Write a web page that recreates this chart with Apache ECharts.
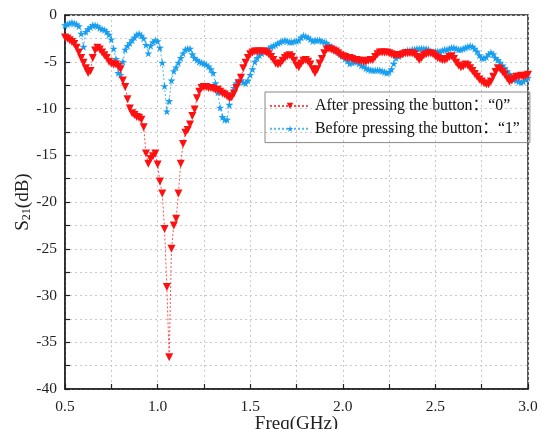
<!DOCTYPE html>
<html><head><meta charset="utf-8">
<script src="https://cdn.jsdelivr.net/npm/echarts@6/dist/echarts.min.js"></script>
<style>html,body{margin:0;padding:0;background:#fff}#c{width:542px;height:429px}</style>
</head><body><div id="c"></div>
<script>
// Frequency sweep: 201 points from 0.5 to 3.0 GHz
const freqStart = 0.5;
const freqStep = 0.0125;
const xTicks = ['0.5','1.0','1.5','2.0','2.5','3.0'];
const yTicks = ['0','-5','-10','-15','-20','-25','-30','-35','-40'];
const seriesNames = ['After pressing the button\uff1a\u201c0\u201d', 'Before pressing the button\uff1a\u201c1\u201d'];

const afterS21 = [
-2.4,-2.5,-2.7,-2.9,-3.1,-3.5,-4.0,-4.6,-5.1,-5.7,
-6.2,-6.0,-4.6,-3.8,-3.5,-3.7,-4.0,-4.3,-4.6,-5.0,
-5.2,-5.3,-5.3,-5.5,-5.8,-7.0,-7.7,-9.0,-10.0,-10.5,
-10.7,-10.9,-11.0,-11.2,-12.0,-14.8,-15.9,-15.4,-15.1,-14.8,
-16.0,-17.8,-19.1,-22.9,-29.1,-36.6,-25.0,-22.5,-21.8,-19.1,
-15.9,-13.8,-12.6,-12.3,-11.7,-10.8,-10.1,-8.9,-8.2,-7.8,
-7.7,-7.7,-7.8,-7.8,-7.9,-8.0,-8.0,-8.2,-8.4,-8.5,
-8.7,-8.9,-8.8,-8.4,-7.8,-7.3,-6.7,-5.7,-5.1,-4.6,
-4.2,-4.0,-3.9,-3.9,-3.9,-3.9,-3.9,-4.0,-4.2,-4.5,
-4.8,-5.2,-5.3,-5.2,-4.9,-4.6,-4.4,-4.3,-4.5,-4.9,
-5.4,-5.6,-5.2,-4.9,-4.8,-5.0,-5.3,-5.8,-6.2,-5.8,
-5.2,-4.7,-4.1,-3.7,-3.6,-3.7,-3.8,-3.9,-4.1,-4.3,
-4.4,-4.5,-4.6,-4.6,-4.7,-4.8,-4.8,-4.9,-4.9,-5.0,
-5.0,-4.9,-4.8,-4.8,-4.5,-4.2,-4.0,-4.0,-4.0,-4.0,
-4.1,-4.2,-4.3,-4.3,-4.3,-4.3,-4.2,-4.1,-4.1,-4.1,
-4.1,-4.2,-4.5,-4.8,-4.6,-4.3,-4.2,-4.1,-4.1,-4.2,
-4.4,-4.6,-4.7,-4.8,-4.8,-4.7,-4.5,-4.4,-4.7,-5.1,
-5.4,-5.6,-5.5,-5.3,-5.4,-5.7,-6.0,-6.3,-6.6,-6.9,
-7.1,-7.3,-7.4,-7.4,-7.1,-6.6,-6.1,-5.7,-5.8,-6.1,
-6.4,-6.8,-7.1,-7.0,-6.8,-6.6,-6.6,-6.5,-6.6,-6.5,
-6.4
];

const beforeS21 = [
-1.1,-1.0,-0.9,-0.8,-0.9,-1.0,-1.2,-2.0,-3.4,-1.8,
-1.5,-1.3,-1.1,-1.1,-1.2,-1.4,-1.5,-1.6,-1.8,-2.1,
-2.6,-3.6,-4.7,-6.2,-6.4,-5.0,-3.7,-3.3,-3.0,-2.7,
-2.4,-2.1,-2.0,-2.2,-2.5,-3.2,-4.1,-3.3,-2.9,-2.7,
-2.8,-3.5,-5.1,-7.6,-10.3,-9.2,-7.0,-6.0,-5.6,-5.1,
-4.6,-4.1,-3.7,-3.6,-3.6,-4.2,-4.6,-4.8,-5.0,-5.1,
-5.2,-5.3,-5.5,-5.8,-6.2,-7.3,-8.3,-9.9,-10.9,-11.2,
-11.2,-9.6,-8.4,-7.8,-7.3,-7.1,-7.0,-7.2,-7.3,-7.0,
-6.4,-5.8,-5.0,-4.6,-4.3,-4.1,-3.9,-3.8,-3.6,-3.4,
-3.3,-3.2,-3.0,-2.9,-2.8,-2.7,-2.8,-2.9,-2.9,-2.8,
-2.8,-2.7,-2.4,-2.2,-2.3,-2.4,-2.6,-2.8,-2.7,-2.7,
-2.7,-2.8,-2.9,-3.0,-3.2,-3.4,-3.6,-3.8,-4.0,-4.2,
-4.4,-4.7,-4.9,-5.2,-5.1,-5.0,-5.0,-5.2,-5.4,-5.5,
-5.7,-5.8,-5.9,-5.9,-5.9,-5.9,-5.9,-6.0,-6.1,-6.2,
-6.1,-5.8,-5.2,-4.6,-4.4,-4.2,-4.0,-3.9,-3.8,-3.8,
-3.7,-3.7,-3.6,-3.6,-3.6,-3.6,-3.6,-3.7,-3.9,-4.0,
-3.9,-3.9,-3.9,-3.8,-3.7,-3.7,-3.6,-3.5,-3.5,-3.6,
-3.7,-3.7,-3.6,-3.5,-3.4,-3.3,-3.4,-3.6,-3.9,-4.3,
-4.6,-4.6,-4.5,-4.2,-4.0,-4.2,-4.6,-4.8,-5.1,-5.4,
-5.7,-6.0,-6.3,-6.6,-6.9,-7.0,-7.1,-7.2,-7.1,-6.9,
-6.7
];

function pairs(vals){ return vals.map((v,i)=>[+(freqStart + i*freqStep).toFixed(4), v]); }

const STAR = 'path://M50,0 L61,35 L98,35 L68,57 L79,91 L50,70 L21,91 L32,57 L2,35 L39,35 Z';
const serif = '"Liberation Serif","Times New Roman","Noto Sans CJK SC",serif';
const chart = echarts.init(document.getElementById('c'), null, {renderer:'canvas'});
const gridLine = {show:true, lineStyle:{color:'#c8c8c8', type:[2,3], width:1}};
chart.setOption({
  animation:false,
  backgroundColor:'#fff',
  grid:{left:65, right:14, top:15, bottom:40, containLabel:false, outerBoundsMode:'none',
        show:true, borderColor:'#222', borderWidth:1.5, backgroundColor:'transparent'},
  legend:{
    orient:'vertical', left:265, top:92,
    borderColor:'#888', borderWidth:1, padding:[6,10,6,4], itemGap:7,
    itemWidth:40, itemHeight:8,
    textStyle:{fontFamily:serif, fontSize:15.8, color:'#111'},
    data:[{name:seriesNames[0]},{name:seriesNames[1]}]
  },
  xAxis:{
    type:'value', min:0.5, max:3.0, interval:0.25,
    axisLine:{show:true, onZero:false, lineStyle:{color:'#222', width:1.5}},
    axisTick:{show:true, inside:true, length:5, lineStyle:{color:'#222', width:1.2}},
    splitLine:gridLine,
    axisLabel:{fontFamily:serif, fontSize:15.5, color:'#222', margin:10,
      formatter:v=>{ const s=v.toFixed(1); return xTicks.includes(s) && Math.abs(v*2-Math.round(v*2))<1e-6 ? s : ''; }},
    name:'Freq(GHz)', nameLocation:'middle', nameGap:26, nameMoveOverlap:false,
    nameTextStyle:{fontFamily:serif, fontSize:19, color:'#222'}
  },
  yAxis:{
    type:'value', min:-40, max:0, interval:2.5,
    axisLine:{show:true, lineStyle:{color:'#222', width:1.5}},
    axisTick:{show:true, inside:true, length:5, lineStyle:{color:'#222', width:1.2}},
    splitLine:gridLine,
    axisLabel:{fontFamily:serif, fontSize:15.5, color:'#222', margin:8,
      formatter:v=>{ const s=String(v); return yTicks.includes(s) ? s : ''; }},
    name:'{a|S}{b|21}{a|(dB)}', nameLocation:'middle', nameGap:32, nameRotate:90, nameMoveOverlap:false,
    nameTextStyle:{rich:{a:{fontFamily:serif, fontSize:19, color:'#222'}, b:{fontFamily:serif, fontSize:12, color:'#222', verticalAlign:'bottom', padding:[8,0,0,0]}}}
  },
  series:[
    {name:seriesNames[0], type:'line', data:pairs(afterS21),
     symbol:'triangle', symbolRotate:180, symbolSize:8, showAllSymbol:true,
     itemStyle:{color:'#ff1010'}, lineStyle:{color:'#ff5050', width:1, type:[2,2]}, z:3},
    {name:seriesNames[1], type:'line', data:pairs(beforeS21),
     symbol:STAR, symbolSize:8, showAllSymbol:true,
     itemStyle:{color:'#1a9ff0'}, lineStyle:{color:'#50b8f5', width:1, type:[2,2]}, z:2}
  ]
});
</script></body></html>
